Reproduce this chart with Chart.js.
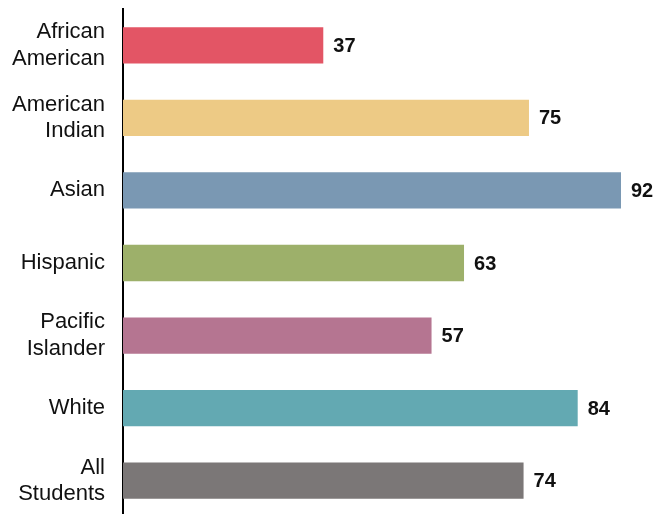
<!DOCTYPE html>
<html>
<head>
<meta charset="utf-8">
<script src="https://cdn.jsdelivr.net/npm/chart.js@4"></script>
<style>
html,body{margin:0;padding:0;background:#fff;overflow:hidden;}
canvas{display:block;}
</style>
</head>
<body>
<canvas id="c" width="653" height="518" style="width:653px;height:518px"></canvas>
<script>
const categories = [["African","American"],["American","Indian"],["Asian"],["Hispanic"],["Pacific","Islander"],["White"],["All","Students"]];
const values = [37, 75, 92, 63, 57, 84, 74];
const colors = ["#E35565","#EDCA85","#7A98B3","#9DB06A","#B57591","#63A9B2","#7B7777"];

const valueLabels = {
  id: 'valueLabels',
  afterDatasetsDraw(chart) {
    const ctx = chart.ctx;
    const meta = chart.getDatasetMeta(0);
    ctx.save();
    ctx.font = 'bold 20px "Liberation Sans", Arial, sans-serif';
    ctx.fillStyle = '#111';
    ctx.textAlign = 'left';
    ctx.textBaseline = 'middle';
    meta.data.forEach((bar, i) => {
      ctx.fillText(String(values[i]), bar.x + 10, bar.y + 1);
    });
    ctx.restore();
  }
};

new Chart(document.getElementById('c'), {
  type: 'bar',
  data: {
    labels: categories,
    datasets: [{
      data: values,
      backgroundColor: colors,
      borderWidth: 0,
      barPercentage: 0.5,
      categoryPercentage: 1.0
    }]
  },
  options: {
    indexAxis: 'y',
    responsive: false,
    devicePixelRatio: 1,
    animation: false,
    layout: { padding: { top: 9, bottom: 1, right: 32, left: 0 } },
    plugins: { legend: { display: false }, tooltip: { enabled: false } },
    scales: {
      x: { display: false, min: 0, max: 92 },
      y: {
        grid: { display: false, drawTicks: false },
        border: { display: true, color: '#000', width: 2 },
        ticks: {
          color: '#111',
          padding: 18,
          font: { family: '"Liberation Sans", Arial, sans-serif', size: 22, lineHeight: 1.2 }
        },
        afterFit(scale) { scale.width = 123; scale.paddingTop = 0; scale.paddingBottom = 0; }
      }
    }
  },
  plugins: [valueLabels]
});
</script>
</body>
</html>
